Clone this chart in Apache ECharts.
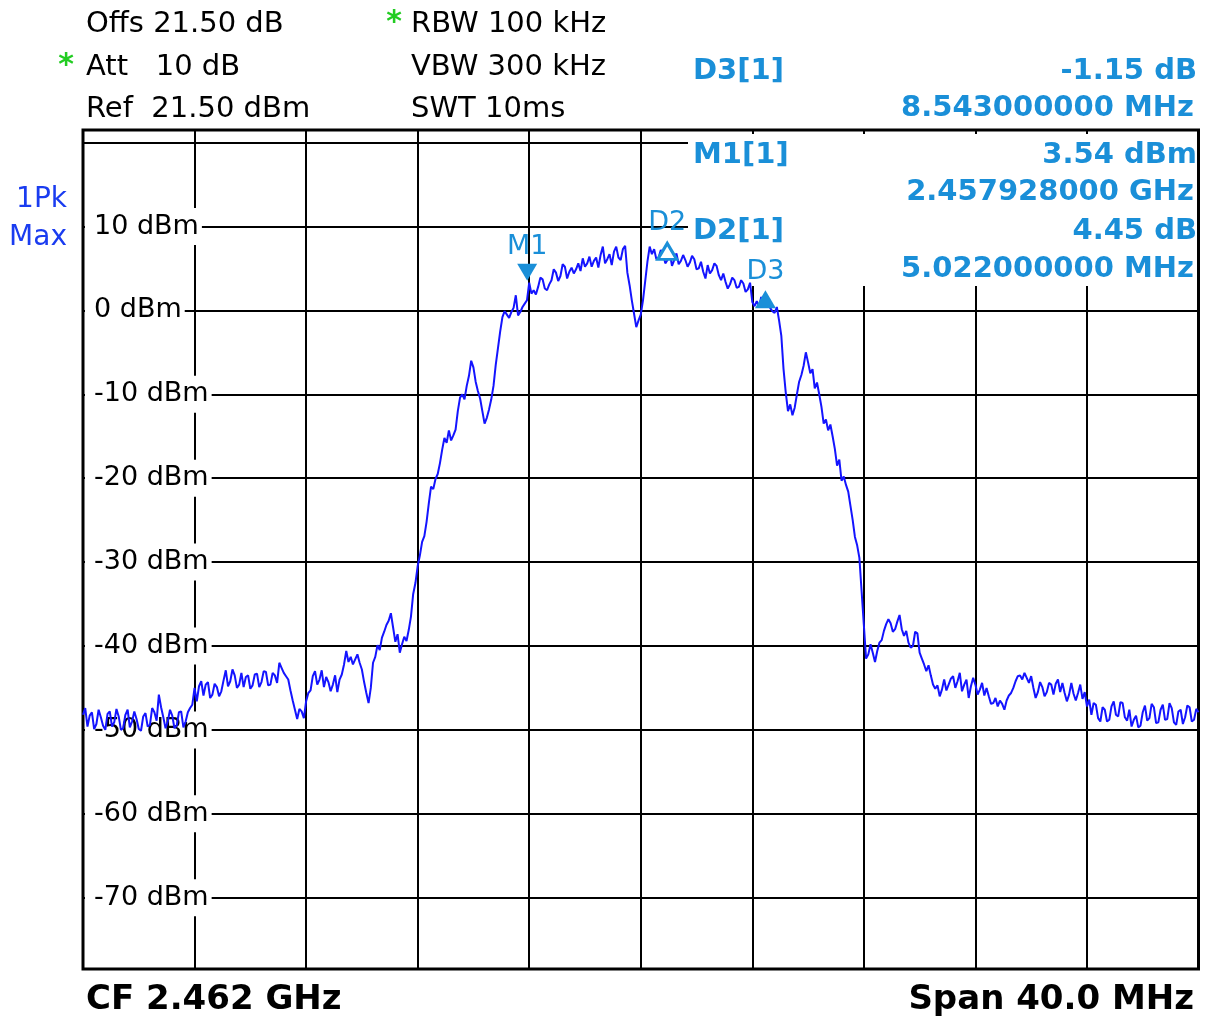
<!DOCTYPE html>
<html>
<head>
<meta charset="utf-8">
<script src="https://cdn.jsdelivr.net/npm/echarts@6/dist/echarts.min.js"></script>
<style>
html,body{margin:0;padding:0;background:#fff;}
#chart{width:1207px;height:1019px;}
</style>
</head>
<body>
<div id="chart"></div>
<script>
const centerFreqLabel = 'CF 2.462 GHz';
const spanLabel = 'Span 40.0 MHz';
const centerFreqMHz = 2462;
const startOffsetMHz = -20;   // sweep start relative to CF
const stopOffsetMHz = 20;
const sweepStepMHz = 0.08;    // spacing of the trace points
const refLevel = 21.5;        // top of screen, dBm
const bottomLevel = -78.5;    // bottom of screen, dBm

// trace levels in dBm (1Pk Max), one per sweep point
const traceLevels = [
  -48.2,-47.4,-49.6,-48.3,-47.9,-49.9,-49.3,-47.6,-48.5,-49.5,
  -50.0,-48.1,-47.8,-49.6,-49.1,-47.5,-48.4,-50.0,-49.8,-48.2,
  -47.6,-49.7,-49.0,-47.8,-48.7,-49.9,-50.1,-48.4,-48.0,-49.6,
  -49.4,-47.4,-47.9,-48.9,-45.8,-47.3,-48.5,-49.8,-49.0,-47.6,
  -48.3,-49.8,-49.5,-47.9,-47.8,-49.7,-49.0,-47.9,-47.4,-47.0,
  -45.0,-46.6,-44.8,-44.2,-45.9,-44.6,-44.3,-46.2,-45.8,-44.5,
  -44.9,-46.0,-45.4,-44.1,-42.9,-44.8,-44.2,-42.8,-43.5,-45.0,
  -44.6,-43.2,-44.9,-43.7,-43.5,-45.1,-44.7,-43.4,-43.3,-44.9,
  -44.3,-43.0,-43.1,-44.7,-44.6,-43.2,-43.5,-44.4,-42.0,-42.6,
  -43.2,-43.6,-44.0,-45.3,-46.5,-47.6,-48.7,-47.5,-47.8,-48.6,
  -46.6,-45.6,-45.3,-43.6,-43.0,-44.6,-44.0,-42.9,-44.9,-43.7,
  -44.3,-45.4,-44.6,-43.5,-45.5,-44.0,-43.4,-42.2,-40.6,-41.9,
  -41.3,-42.2,-41.6,-41.0,-42.0,-42.8,-44.3,-45.6,-46.8,-45.0,
  -42.0,-41.3,-39.9,-40.5,-39.0,-38.3,-37.5,-37.0,-36.1,-37.8,
  -39.5,-38.6,-40.8,-39.8,-38.9,-39.4,-38.1,-36.5,-33.8,-32.5,
  -30.5,-29.2,-27.6,-26.9,-25.2,-23.0,-21.0,-21.3,-20.1,-19.5,
  -18.2,-16.6,-15.2,-15.8,-14.3,-15.5,-14.9,-14.2,-12.0,-10.4,
  -10.0,-10.6,-9.0,-7.8,-6.0,-6.8,-8.5,-9.6,-10.5,-12.0,
  -13.5,-12.8,-11.8,-10.6,-9.0,-6.5,-4.5,-2.5,-0.8,-0.1,
  -0.5,-0.9,-0.2,0.3,1.8,-0.6,-0.2,0.4,0.8,1.2,
  3.3,2.0,2.4,1.9,2.8,3.9,3.7,2.6,2.4,3.1,
  3.6,4.9,4.5,3.5,4.1,5.5,5.2,3.8,4.6,5.1,
  4.4,4.9,5.6,4.7,6.2,5.2,5.6,6.4,5.2,5.9,
  6.3,5.1,6.6,7.6,5.6,6.1,6.7,5.4,7.0,7.6,
  6.3,6.0,7.3,7.7,4.5,3.0,1.2,-0.4,-2.0,-1.2,
  -0.5,1.2,3.5,5.8,7.6,6.7,7.3,6.1,6.3,7.2,
  6.8,5.6,6.0,6.9,5.3,6.0,6.8,5.5,5.9,6.6,
  6.0,5.2,5.7,6.5,6.1,4.9,5.0,5.8,4.6,3.8,
  5.4,4.4,4.8,5.6,5.3,4.2,3.6,4.4,3.4,2.6,
  3.1,3.9,3.6,2.7,2.8,3.6,3.2,2.2,2.5,3.3,
  1.0,0.5,1.1,0.4,1.6,0.6,0.8,1.2,0.3,-0.1,
  -0.3,0.4,-1.2,-3.0,-7.0,-9.8,-12.0,-11.2,-12.5,-11.6,
  -10.0,-8.5,-7.7,-6.6,-5.0,-6.2,-7.5,-7.0,-9.3,-8.6,
  -10.0,-11.5,-13.5,-13.0,-14.3,-13.6,-15.0,-16.5,-18.5,-17.8,
  -20.3,-19.8,-20.8,-21.6,-23.3,-25.0,-27.0,-28.0,-29.5,-33.5,
  -37.5,-41.5,-41.0,-39.8,-40.8,-41.9,-40.6,-39.6,-39.3,-38.2,
  -37.4,-36.8,-37.3,-38.3,-38.0,-37.1,-36.3,-38.0,-38.8,-38.2,
  -39.6,-40.2,-40.0,-38.3,-38.5,-40.8,-41.5,-42.2,-43.0,-42.3,
  -43.5,-44.6,-45.1,-44.7,-46.0,-45.2,-44.0,-45.3,-44.6,-43.9,
  -43.6,-45.0,-44.2,-43.2,-45.4,-44.6,-44.0,-46.2,-44.8,-43.8,
  -44.6,-45.8,-45.2,-44.4,-45.9,-45.0,-46.0,-46.9,-46.8,-46.2,
  -47.2,-46.5,-46.9,-47.6,-46.5,-45.9,-45.6,-45.0,-44.2,-43.6,
  -43.5,-44.0,-43.2,-43.8,-44.4,-43.6,-45.0,-46.2,-45.5,-44.3,
  -44.9,-46.0,-45.5,-44.4,-44.6,-45.8,-44.5,-44.0,-45.5,-44.4,
  -45.6,-46.6,-45.8,-44.4,-45.7,-46.5,-45.6,-44.6,-46.3,-45.5,
  -47.2,-46.4,-48.2,-46.8,-47.0,-48.6,-49.0,-47.3,-47.6,-49.0,
  -48.8,-47.2,-46.6,-48.2,-48.4,-46.7,-46.8,-48.5,-48.9,-47.6,
  -49.6,-48.8,-48.3,-49.7,-49.5,-47.9,-47.1,-48.9,-48.6,-46.9,
  -47.3,-49.2,-49.1,-47.6,-47.0,-48.8,-48.7,-46.8,-47.4,-49.1,
  -49.4,-47.8,-47.6,-49.3,-48.5,-47.1,-47.3,-49.0,-48.8,-47.5,
  -47.9
];

// y tick values / labels
const yTickValues = [10, 0, -10, -20, -30, -40, -50, -60, -70];
const yTickLabels = ['10 dBm', '0 dBm', '-10 dBm', '-20 dBm', '-30 dBm', '-40 dBm', '-50 dBm', '-60 dBm', '-70 dBm'];

// marker readouts
const m1FreqGHz = 2.457928;
const m1Level = 3.54;
const d2DeltaMHz = 5.022000000, d2DeltaDb = 4.45;
const d3DeltaMHz = 8.543000000, d3DeltaDb = -1.15;
const markerNames = ['M1', 'D2', 'D3'];

// header texts
const headerLeft = ['Offs 21.50 dB', 'Att   10 dB', 'Ref  21.50 dBm'];
const headerMid = ['RBW 100 kHz', 'VBW 300 kHz', 'SWT 10ms'];
const headerStar = [false, true, false];
const headerMidStar = [true, false, false];
const readoutNames = ['D3[1]', 'M1[1]', 'D2[1]'];
const readoutLine1 = ['-1.15 dB', '3.54 dBm', '4.45 dB'];
const readoutLine2 = ['8.543000000 MHz', '2.457928000 GHz', '5.022000000 MHz'];
const traceLabel = ['1Pk', 'Max'];

// ---- build ----
const traceData = traceLevels.map((v, i) => [startOffsetMHz + i * sweepStepMHz, v]);
const m1Off = m1FreqGHz * 1000 - centerFreqMHz;
const markerFreqs = [m1Off, m1Off + d2DeltaMHz, m1Off + d3DeltaMHz];
const markerLevels = [m1Level, m1Level + d2DeltaDb, m1Level + d3DeltaDb];

const FAMILY = '"DejaVu Sans", Verdana, sans-serif';
const MCOL = '#1a8fd8';
const TRACE = '#1414ff';

const chart = echarts.init(document.getElementById('chart'), null, {renderer: 'canvas'});

function txt(t, x, y, size, weight, fill, align) {
  return {type: 'text', z: 5, style: {text: t, x: x, y: y, font: weight + ' ' + size + 'px ' + FAMILY,
    fill: fill, textAlign: align, textVerticalAlign: 'middle'}};
}

const graphics = [];
// white box behind marker readouts (covers grid)
graphics.push({type: 'rect', z: 1, shape: {x: 688, y: 134, width: 509, height: 152}, style: {fill: '#fff'}});
const lineY = [24.5, 67.5, 109.5];
headerLeft.forEach((t, i) => {
  graphics.push(txt(t, 86, lineY[i], 29, 'normal', '#000', 'left'));
  if (headerStar[i]) graphics.push(txt('*', 66, lineY[i] - 1, 30, 'bold', '#22cc22', 'center'));
});
headerMid.forEach((t, i) => {
  graphics.push(txt(t, 411, lineY[i], 29, 'normal', '#000', 'left'));
  if (headerMidStar[i]) graphics.push(txt('*', 394, lineY[i] - 1, 30, 'bold', '#22cc22', 'center'));
});
const roY = [[71, 108], [155, 192], [231, 269]];
readoutNames.forEach((t, i) => {
  graphics.push(txt(t, 693, roY[i][0], 29, 'bold', MCOL, 'left'));
  graphics.push(txt(readoutLine1[i], 1197, roY[i][0], 29, 'bold', MCOL, 'right'));
  graphics.push(txt(readoutLine2[i], 1194, roY[i][1], 29, 'bold', MCOL, 'right'));
});
traceLabel.forEach((t, i) => {
  graphics.push(txt(t, 67, 200 + i * 38, 28, 'normal', '#1a3cf0', 'right'));
});
graphics.push(txt(centerFreqLabel, 86, 1000, 34, 'bold', '#000', 'left'));
graphics.push(txt(spanLabel, 1194, 1000, 34, 'bold', '#000', 'right'));

const markPoints = markerNames.map((name, i) => {
  const down = i === 0;
  const hollow = i === 1;
  const size = hollow ? [19, 16] : (down ? [20, 17] : [21, 18]);
  return {
    name: name,
    coord: [markerFreqs[i], markerLevels[i]],
    symbol: 'triangle',
    symbolSize: size,
    symbolRotate: down ? 180 : 0,
    symbolOffset: [0, down ? -size[1] / 2 : size[1] / 2],
    itemStyle: hollow ? {color: '#fff', borderColor: MCOL, borderWidth: 3} : {color: MCOL, borderWidth: 0},
    label: {show: true, formatter: name, position: 'top', distance: down ? 3 : 5,
      color: MCOL, fontFamily: FAMILY, fontSize: 27, fontWeight: 'normal'}
  };
});

const option = {
  animation: false,
  backgroundColor: '#fff',
  graphic: graphics,
  grid: {left: 83, top: 130, width: 1115.5, height: 839, show: true, backgroundColor: '#fff', borderColor: '#000', borderWidth: 3, containLabel: false},
  xAxis: {
    type: 'value', min: startOffsetMHz, max: stopOffsetMHz, interval: 4,
    axisLine: {show: false}, axisTick: {show: false}, axisLabel: {show: false},
    splitLine: {show: true, lineStyle: {color: '#000', width: 2}}
  },
  yAxis: {
    type: 'value', min: bottomLevel, max: refLevel, splitNumber: 10,
    axisLine: {show: false}, axisTick: {show: false},
    axisLabel: {
      show: true, inside: true, margin: 2,
      formatter: v => { const k = yTickValues.indexOf(Math.round(v * 10) / 10); return k >= 0 ? '{l|' + yTickLabels[k] + '}' : ''; },
      rich: {l: {color: '#000', fontFamily: FAMILY, fontSize: 27, backgroundColor: '#fff', padding: [5, 3, 5, 9]}}
    },
    splitLine: {show: true, lineStyle: {color: '#000', width: 2}}
  },
  series: [{
    type: 'line', data: traceData, showSymbol: false, symbol: 'none', z: 2,
    lineStyle: {color: TRACE, width: 2}, clip: true,
    markPoint: {data: markPoints, z: 6, animation: false}
  }]
};
chart.setOption(option);
</script>
</body>
</html>
